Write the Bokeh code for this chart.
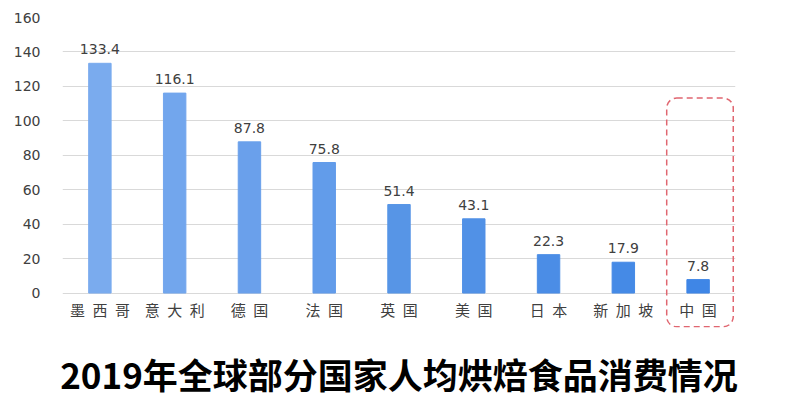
from bokeh.plotting import figure
from bokeh.models import ColumnDataSource, BoxAnnotation, FixedTicker, LabelSet, Title
from bokeh.core.properties import value
from bokeh.embed import file_html
from bokeh.resources import INLINE

countries = ["墨西哥", "意大利", "德国", "法国", "英国", "美国", "日本", "新加坡", "中国"]
values = [133.4, 116.1, 87.8, 75.8, 51.4, 43.1, 22.3, 17.9, 7.8]
y_ticks = [0, 20, 40, 60, 80, 100, 120, 140, 160]
title_text = "2019年全球部分国家人均烘焙食品消费情况"
highlight = "中国"

bar_colors = ["#7aabee", "#72a6ed", "#6aa0eb", "#629cea", "#5795e6",
              "#5191e6", "#4b8de6", "#458ae6", "#3f86e6"]

src = ColumnDataSource(dict(x=countries, top=values, color=bar_colors,
                            label=[f"{v:.1f}" for v in values],
                            name=["\u2002".join(c) for c in countries]))

p = figure(x_range=countries, y_range=(-20, 160), width=784, height=416,
           output_backend="svg", toolbar_location=None,
           min_border_left=62, min_border_right=49, min_border_top=17,
           min_border_bottom=87)
p.x_range.range_padding = 0
p.outline_line_color = None
p.background_fill_color = "white"
p.border_fill_color = "white"

p.vbar(x="x", top="top", bottom=0, width=0.3, color="color", source=src)

labels = LabelSet(x="x", y="top", text="label", source=src, text_align="center",
                  text_baseline="bottom", y_offset=9, text_font_size=value("14px"),
                  text_font=value("DejaVu Sans"), text_color="#404040")
p.add_layout(labels)

# category labels drawn under the zero line
p.text(x="x", y=-9.8, text="name", source=src, text_align="center",
       text_baseline="middle", text_font=value("Noto Sans CJK SC"),
       text_font_size=value("15px"), text_color="#404040")

p.xaxis.visible = False

p.yaxis.ticker = FixedTicker(ticks=y_ticks)
p.yaxis.axis_line_color = None
p.yaxis.major_tick_line_color = None
p.yaxis.minor_tick_line_color = None
p.yaxis.major_label_text_font = "DejaVu Sans"
p.yaxis.major_label_text_font_size = "14px"
p.yaxis.major_label_text_color = "#404040"
p.yaxis.major_label_standoff = 16

p.xgrid.grid_line_color = None
p.ygrid.grid_line_color = "#d9d9d9"
p.ygrid.grid_line_width = 1

idx = countries.index(highlight)
box = BoxAnnotation(left=idx + 0.08, right=idx + 0.97, top=113.2, bottom=-19.6,
                    fill_color=None, fill_alpha=0, line_color="#e06670",
                    line_alpha=1.0, line_dash="6 4",
                    line_width=1.5, border_radius=10, level="overlay")
p.add_layout(box)

t = Title(text=title_text, align="center", offset=5, text_font="Noto Sans CJK SC",
          text_font_size="35px", text_font_style="bold", text_color="#000000",
          standoff=36)
p.add_layout(t, "below")

open("out.html", "w").write(file_html(p, INLINE))
